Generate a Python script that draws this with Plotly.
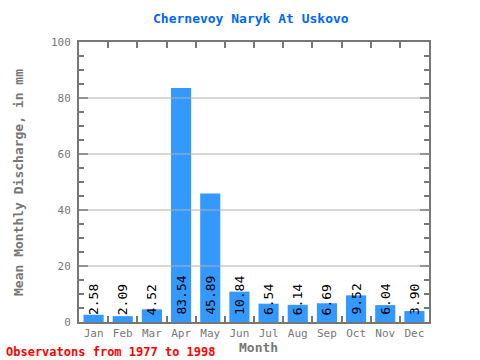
import plotly.graph_objects as go

months = ["Jan", "Feb", "Mar", "Apr", "May", "Jun", "Jul", "Aug", "Sep", "Oct", "Nov", "Dec"]
values = [2.58, 2.09, 4.52, 83.54, 45.89, 10.84, 6.54, 6.14, 6.69, 9.52, 6.04, 3.90]
labels = ["2.58", "2.09", "4.52", "83.54", "45.89", "10.84", "6.54", "6.14", "6.69", "9.52", "6.04", "3.90"]

FONT = "DejaVu Sans Mono"
AX = "#777777"
L, R, T, B = 79, 51, 42, 38
PW, PH = 480 - L - R, 360 - T - B

fig = go.Figure()
fig.add_trace(go.Bar(x=months, y=values, marker=dict(color="#3399ff", line=dict(width=0)),
                     width=0.69, hoverinfo="skip"))

for m, v, t in zip(months, values, labels):
    fig.add_annotation(x=m, y=0, xref="x", yref="y", text=t, textangle=-90,
                       showarrow=False, yanchor="bottom", yshift=5,
                       font=dict(family=FONT, size=13, color="black"))

for g in [20, 40, 60, 80]:
    fig.add_shape(type="line", xref="paper", yref="y", x0=0, x1=1, y0=g, y1=g,
                  line=dict(color="#b0b0b0", width=1), layer="above")

fig.update_layout(
    width=480, height=360,
    margin=dict(l=L, r=R, t=T, b=B, autoexpand=False),
    paper_bgcolor="white", plot_bgcolor="white",
    showlegend=False,
    bargap=0.31,
)
fig.update_xaxes(
    type="category", tickson="boundaries", ticks="inside", ticklen=6, tickwidth=2, tickcolor=AX,
    showline=True, linecolor=AX, linewidth=2, mirror="ticks", showgrid=False,
    tickangle=0, automargin=False,
    tickfont=dict(family=FONT, size=11, color=AX),
)
fig.update_yaxes(
    range=[0, 100], tickvals=[0, 20, 40, 60, 80, 100], ticks="inside", ticklen=9, tickwidth=2, tickcolor=AX,
    minor=dict(dtick=5, ticks="inside", ticklen=5, tickwidth=2, tickcolor=AX, showgrid=False),
    showline=True, linecolor=AX, linewidth=2, mirror="ticks", showgrid=False, zeroline=False,
    automargin=False, ticklabelstandoff=4,
    tickfont=dict(family=FONT, size=11, color=AX),
)

def px_x(x):
    return (x - L) / PW

def px_y(y):
    return (360 - B - y) / PH

fig.add_annotation(x=px_x(251), y=px_y(18), xref="paper", yref="paper", xanchor="center", yanchor="middle",
                   text="<b>Chernevoy Naryk At Uskovo</b>", showarrow=False,
                   font=dict(family=FONT, size=13, color="#0066ff"))
fig.add_annotation(x=px_x(18), y=px_y(183), xref="paper", yref="paper", xanchor="center", yanchor="middle",
                   text="<b>Mean Monthly Discharge, in mm</b>", showarrow=False, textangle=-90,
                   font=dict(family=FONT, size=13, color=AX))
fig.add_annotation(x=px_x(258), y=px_y(347), xref="paper", yref="paper", xanchor="center", yanchor="middle",
                   text="<b>Month</b>", showarrow=False,
                   font=dict(family=FONT, size=13, color=AX))
fig.add_annotation(x=px_x(4), y=px_y(352), xref="paper", yref="paper", xanchor="left", yanchor="middle",
                   text="<b>Observatons from 1977 to 1998</b>", showarrow=False,
                   font=dict(family=FONT, size=12, color="red"))

fig.write_html("out.html", config={"displayModeBar": False},
               post_script="document.body.style.margin='0';document.body.style.overflow='hidden';")
